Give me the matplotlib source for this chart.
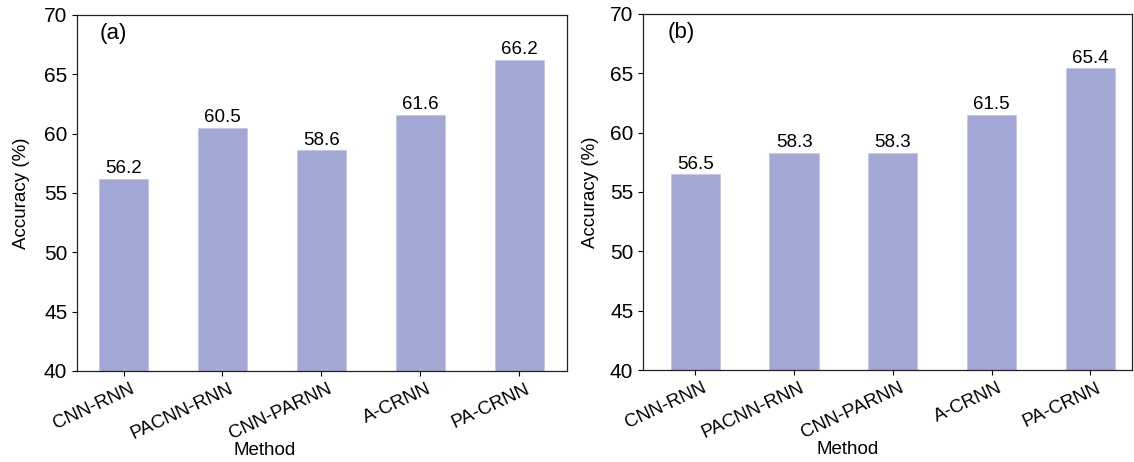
import matplotlib
matplotlib.use("Agg")
import matplotlib.pyplot as plt
from matplotlib.transforms import ScaledTranslation

plt.rcParams["font.family"] = ["Liberation Sans", "DejaVu Sans"]
plt.rcParams["font.size"] = 13.5

methods = ["CNN-RNN", "PACNN-RNN", "CNN-PARNN", "A-CRNN", "PA-CRNN"]
acc_a = [56.2, 60.5, 58.6, 61.6, 66.2]
acc_b = [56.5, 58.3, 58.3, 61.5, 65.4]
panel_names = ["(a)", "(b)"]

BAR_COLOR = "#a3a7d4"

fig = plt.figure(figsize=(11.34, 4.62), dpi=100)
ax_a = fig.add_axes([0.0679, 0.197, 0.432, 0.771])
ax_b = fig.add_axes([0.567, 0.199, 0.431, 0.771])

# per-panel layout tweaks: xlim, x-label x pos, y-label x pos, panel tag x
layout = [
    (ax_a, acc_a, panel_names[0], (-0.47, 4.48), 0.382, -0.095, 0.047),
    (ax_b, acc_b, panel_names[1], (-0.53, 4.42), 0.419, -0.089, 0.051),
]

shift = ScaledTranslation(6 / 100, 0, fig.dpi_scale_trans)

for ax, vals, name, xlim, xl_x, yl_x, tag_x in layout:
    x = range(len(methods))
    bars = ax.bar(x, vals, width=0.5, color=BAR_COLOR, edgecolor="#c4c7e6", linewidth=0.6)
    for b, v in zip(bars, vals):
        ax.text(b.get_x() + b.get_width() / 2, v + 0.12, f"{v:.1f}",
                ha="center", va="bottom", fontsize=13.5)
    ax.set_ylim(40, 70)
    ax.set_xlim(*xlim)
    ax.set_yticks(range(40, 71, 5))
    ax.set_xticks(list(x))
    ax.set_xticklabels(methods, rotation=25, ha="right", va="top", rotation_mode="anchor",
                       fontsize=13.5)
    for lab in ax.get_xticklabels():
        lab.set_transform(lab.get_transform() + shift)
    ax.tick_params(axis="y", labelsize=15)
    ax.set_ylabel("Accuracy (%)", fontsize=13.5)
    ax.yaxis.set_label_coords(yl_x, 0.5)
    ax.set_xlabel("Method", fontsize=13.5)
    ax.xaxis.set_label_coords(xl_x, -0.2)
    ax.text(tag_x, 0.947, name, transform=ax.transAxes, ha="left", va="center", fontsize=16)
    for s in ax.spines.values():
        s.set_linewidth(0.9)
        s.set_color("#222222")

fig.savefig("out.png", dpi=100)
